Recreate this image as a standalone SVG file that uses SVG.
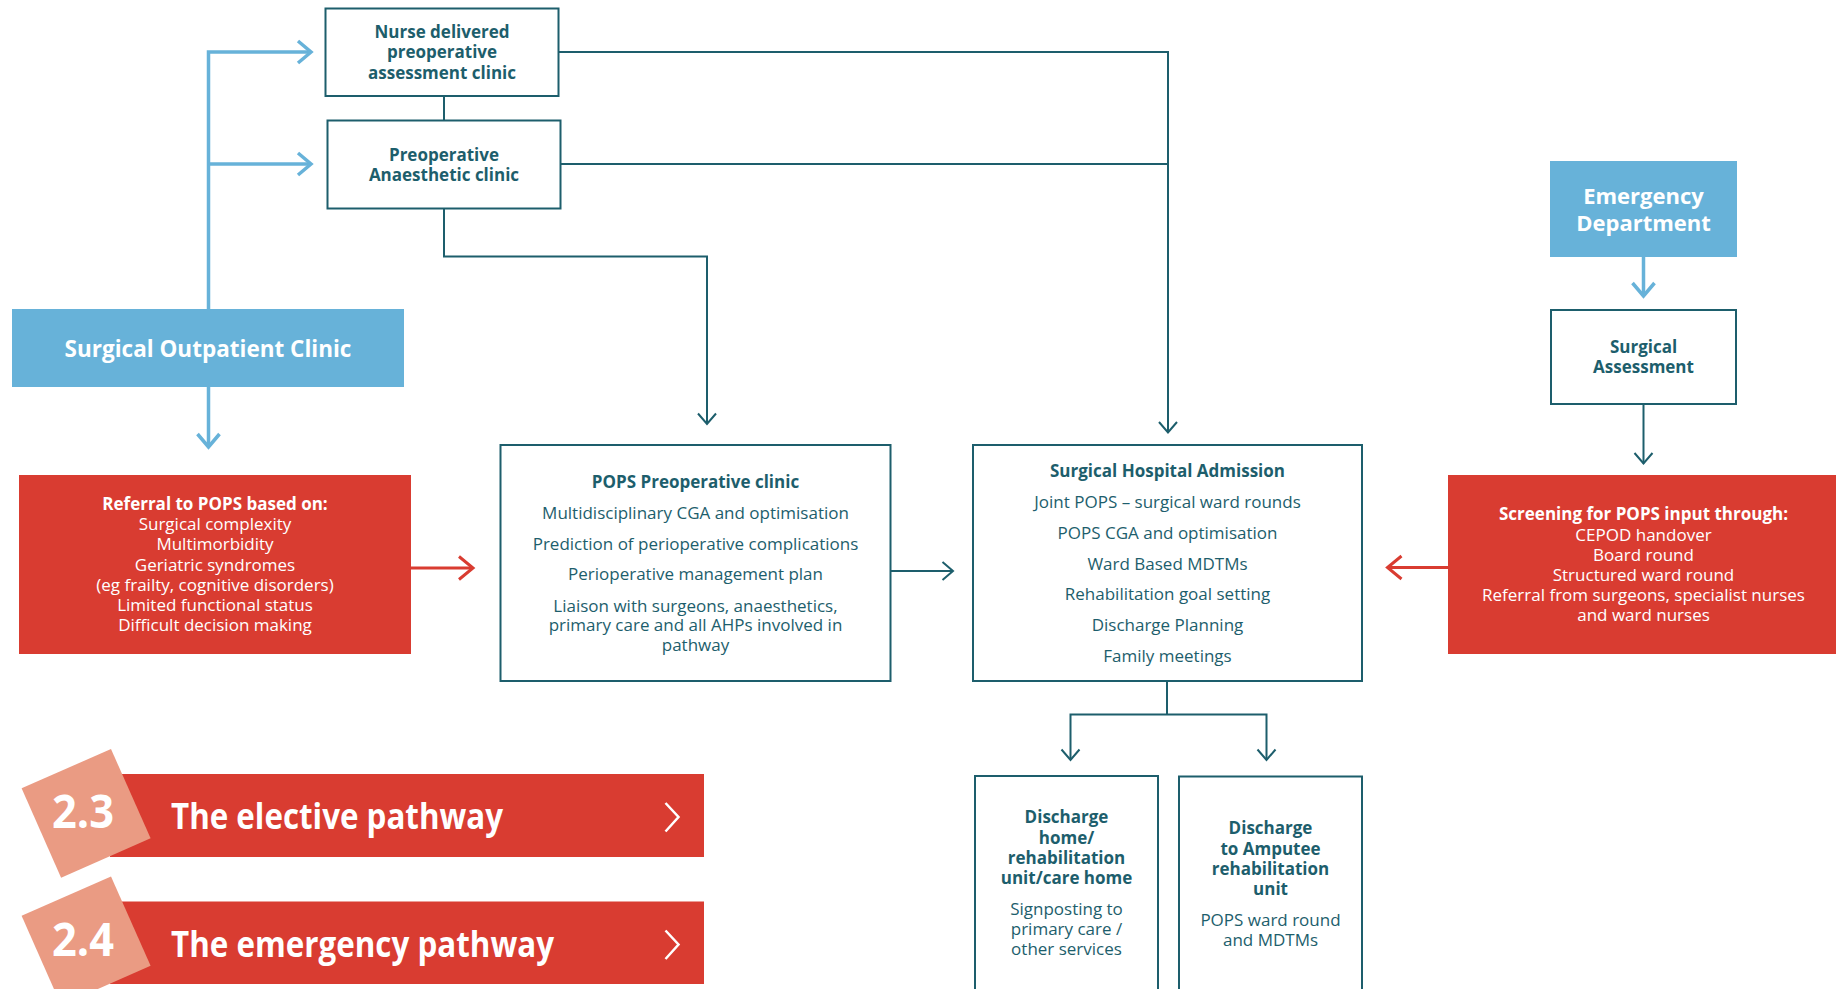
<svg xmlns="http://www.w3.org/2000/svg" width="1836" height="989" viewBox="0 0 1836 989">
<style>
.box{fill:#ffffff;stroke:#1d5e6c;stroke-width:2}
.blue{fill:#67b2d9}
.red{fill:#d93c31}
.salmon{fill:#ea9b83}
.t{font-family:"Open Sans","Liberation Sans",sans-serif;font-size:17px;text-anchor:middle;fill:#1d5e6c}
.b{font-weight:700}
.w{fill:#ffffff}
.ct{fill:none;stroke:#1d5e6c;stroke-width:2}
.cb{fill:none;stroke:#67b2d9;stroke-width:3.5}
.cr{fill:none;stroke:#d93c31;stroke-width:3}
.chev{fill:none;stroke:#ffffff;stroke-width:2.5}
</style>
<defs>
<marker id="aT" markerUnits="userSpaceOnUse" markerWidth="24" markerHeight="24" viewBox="0 0 24 24" refX="20" refY="12" orient="auto">
<path d="M9.5,3 L20,12 L9.5,21" fill="none" stroke="#1d5e6c" stroke-width="2"/>
</marker>
<marker id="aB" markerUnits="userSpaceOnUse" markerWidth="32" markerHeight="32" viewBox="0 0 32 32" refX="27" refY="16" orient="auto">
<path d="M14,5 L27,16 L14,27" fill="none" stroke="#67b2d9" stroke-width="3.5"/>
</marker>
<marker id="aR" markerUnits="userSpaceOnUse" markerWidth="32" markerHeight="32" viewBox="0 0 32 32" refX="27" refY="16" orient="auto">
<path d="M13,4.5 L27,16 L13,27.5" fill="none" stroke="#d93c31" stroke-width="3"/>
</marker>
</defs>

<g id="connectors">
<path class="cb" d="M208.5,309 V52 H311" marker-end="url(#aB)"/>
<path class="cb" d="M208.5,164 H311" marker-end="url(#aB)"/>
<path class="cb" d="M208.5,387 V447" marker-end="url(#aB)"/>
<path class="cb" d="M1643.5,257 V296" marker-end="url(#aB)"/>
<path class="ct" d="M444,96 V120.5"/>
<path class="ct" d="M444,208.5 V256.5 H707 V424" marker-end="url(#aT)"/>
<path class="ct" d="M558.5,52 H1168 V432.5" marker-end="url(#aT)"/>
<path class="ct" d="M560.5,164 H1168"/>
<path class="ct" d="M890,571 H953" marker-end="url(#aT)"/>
<path class="ct" d="M1643.5,404 V463.5" marker-end="url(#aT)"/>
<path class="ct" d="M1167,681 V714.5"/>
<path class="ct" d="M1167,714.5 H1070.5 V760" marker-end="url(#aT)"/>
<path class="ct" d="M1167,714.5 H1266.5 V760" marker-end="url(#aT)"/>
<path class="cr" d="M411,568 H473" marker-end="url(#aR)"/>
<path class="cr" d="M1448,567.5 H1387.5" marker-end="url(#aR)"/>
</g>

<g id="nurse-clinic">
<rect class="box" x="325.5" y="8.5" width="233" height="87.5"/>
<text class="t b" x="442" y="37.5">Nurse delivered</text>
<text class="t b" x="442" y="58">preoperative</text>
<text class="t b" x="442" y="78.5">assessment clinic</text>
</g>

<g id="anaesthetic-clinic">
<rect class="box" x="327.5" y="120.5" width="233" height="88"/>
<text class="t b" x="444" y="161">Preoperative</text>
<text class="t b" x="444" y="181">Anaesthetic clinic</text>
</g>

<g id="surgical-outpatient-clinic">
<rect class="blue" x="12" y="309" width="392" height="78"/>
<text class="t b w" x="208" y="357" style="font-size:22.5px">Surgical Outpatient Clinic</text>
</g>

<g id="referral">
<rect class="red" x="19" y="475" width="392" height="179"/>
<text class="t b w" x="215" y="510">Referral to POPS based on:</text>
<text class="t w" x="215" y="530">Surgical complexity</text>
<text class="t w" x="215" y="550">Multimorbidity</text>
<text class="t w" x="215" y="570.5">Geriatric syndromes</text>
<text class="t w" x="215" y="591">(eg frailty, cognitive disorders)</text>
<text class="t w" x="215" y="611">Limited functional status</text>
<text class="t w" x="215" y="631">Difficult decision making</text>
</g>

<g id="pops-preoperative-clinic">
<rect class="box" x="500.5" y="445" width="390" height="236"/>
<text class="t b" x="695.5" y="488">POPS Preoperative clinic</text>
<text class="t" x="695.5" y="519">Multidisciplinary CGA and optimisation</text>
<text class="t" x="695.5" y="549.5">Prediction of perioperative complications</text>
<text class="t" x="695.5" y="580">Perioperative management plan</text>
<text class="t" x="695.5" y="611.5">Liaison with surgeons, anaesthetics,</text>
<text class="t" x="695.5" y="631">primary care and all AHPs involved in</text>
<text class="t" x="695.5" y="650.5">pathway</text>
</g>

<g id="surgical-hospital-admission">
<rect class="box" x="973" y="445" width="389" height="236"/>
<text class="t b" x="1167.5" y="476.5">Surgical Hospital Admission</text>
<text class="t" x="1167.5" y="507.5">Joint POPS – surgical ward rounds</text>
<text class="t" x="1167.5" y="539">POPS CGA and optimisation</text>
<text class="t" x="1167.5" y="569.5">Ward Based MDTMs</text>
<text class="t" x="1167.5" y="599.5">Rehabilitation goal setting</text>
<text class="t" x="1167.5" y="630.5">Discharge Planning</text>
<text class="t" x="1167.5" y="661.5">Family meetings</text>
</g>

<g id="emergency-department">
<rect class="blue" x="1550" y="161" width="187" height="96"/>
<text class="t b w" x="1643.5" y="204" style="font-size:22px">Emergency</text>
<text class="t b w" x="1643.5" y="230.5" style="font-size:22px">Department</text>
</g>

<g id="surgical-assessment">
<rect class="box" x="1551" y="310" width="185" height="94"/>
<text class="t b" x="1643.5" y="353">Surgical</text>
<text class="t b" x="1643.5" y="373">Assessment</text>
</g>

<g id="screening">
<rect class="red" x="1448" y="475" width="390" height="179"/>
<text class="t b w" x="1643.5" y="520">Screening for POPS input through:</text>
<text class="t w" x="1643.5" y="541">CEPOD handover</text>
<text class="t w" x="1643.5" y="561">Board round</text>
<text class="t w" x="1643.5" y="581">Structured ward round</text>
<text class="t w" x="1643.5" y="601">Referral from surgeons, specialist nurses</text>
<text class="t w" x="1643.5" y="621">and ward nurses</text>
</g>

<g id="discharge-home">
<rect class="box" x="975" y="776" width="183" height="240"/>
<text class="t b" x="1066.5" y="823">Discharge</text>
<text class="t b" x="1066.5" y="843.5">home/</text>
<text class="t b" x="1066.5" y="864">rehabilitation</text>
<text class="t b" x="1066.5" y="883.5">unit/care home</text>
<text class="t" x="1066.5" y="915">Signposting to</text>
<text class="t" x="1066.5" y="935">primary care /</text>
<text class="t" x="1066.5" y="955">other services</text>
</g>

<g id="discharge-amputee">
<rect class="box" x="1179" y="776.5" width="183" height="240"/>
<text class="t b" x="1270.5" y="834">Discharge</text>
<text class="t b" x="1270.5" y="855">to Amputee</text>
<text class="t b" x="1270.5" y="875">rehabilitation</text>
<text class="t b" x="1270.5" y="894.5">unit</text>
<text class="t" x="1270.5" y="926">POPS ward round</text>
<text class="t" x="1270.5" y="946">and MDTMs</text>
</g>

<g id="elective-pathway">
<rect class="red" x="110" y="774" width="594" height="83"/>
<polygon class="salmon" points="111,749 150.6,838.3 61.1,877.7 21.6,788.3"/>
<text class="t b w" x="83" y="828" style="font-size:46px" textLength="62" lengthAdjust="spacingAndGlyphs">2.3</text>
<text class="t b w" x="171" y="828.5" style="font-size:35px;text-anchor:start" textLength="332" lengthAdjust="spacingAndGlyphs">The elective pathway</text>
<polyline class="chev" points="665.5,803 678.5,817 665.5,831.5"/>
</g>

<g id="emergency-pathway">
<rect class="red" x="110" y="901.5" width="594" height="82.5"/>
<polygon class="salmon" points="111,876.5 150.6,965.8 61.1,1005.2 21.6,915.8"/>
<text class="t b w" x="83" y="955.5" style="font-size:46px" textLength="62" lengthAdjust="spacingAndGlyphs">2.4</text>
<text class="t b w" x="171" y="956.5" style="font-size:35px;text-anchor:start" textLength="383" lengthAdjust="spacingAndGlyphs">The emergency pathway</text>
<polyline class="chev" points="665.5,930.5 678.5,944.5 665.5,959"/>
</g>
</svg>
